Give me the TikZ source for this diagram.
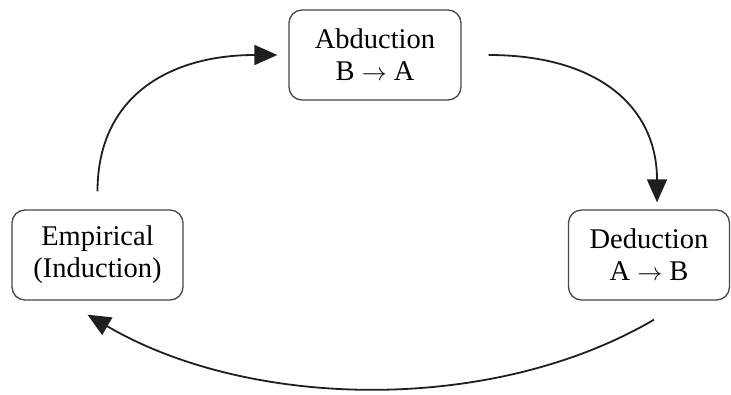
\documentclass[tikz,border=0pt]{standalone}
\usepackage{fontspec}
\setmainfont{Liberation Serif}
\usetikzlibrary{arrows.meta,calc}
\begin{document}
\begin{tikzpicture}[x=1pt,y=-1pt,
  box/.style={draw=black!72, line width=1.3pt, rounded corners=13pt, align=center,
    inner sep=0pt, font=\fontsize{28.5}{32}\selectfont},
  link/.style={line width=1.8pt, draw=black!88, -{Triangle[length=23pt,width=20pt]}}]
\useasboundingbox (0,0) rectangle (731,394);
\node[box, minimum width=172pt, minimum height=90pt] (abd) at (375,55) {Abduction\\B $\rightarrow$ A};
\node[box, minimum width=171pt, minimum height=90pt] (emp) at (97.5,255) {Empirical\\(Induction)};
\node[box, minimum width=161pt, minimum height=90pt] (ded) at (649,255) {Deduction\\A $\rightarrow$ B};
\draw[link] ($(emp.north)+(0,-18)$) .. controls +(0,-95) and +(-108,0) .. ($(abd.west)+(-11,0)$);
\draw[link] ($(abd.east)+(27,0)$) .. controls +(110,0) and +(0,-95) .. ($(ded.north)+(8,-7)$);
\draw[link] ($(ded.south)+(5,19)$) .. controls +(-162,95) and +(162,95) .. ($(emp.south)+(-10,14)$);
\end{tikzpicture}
\end{document}
